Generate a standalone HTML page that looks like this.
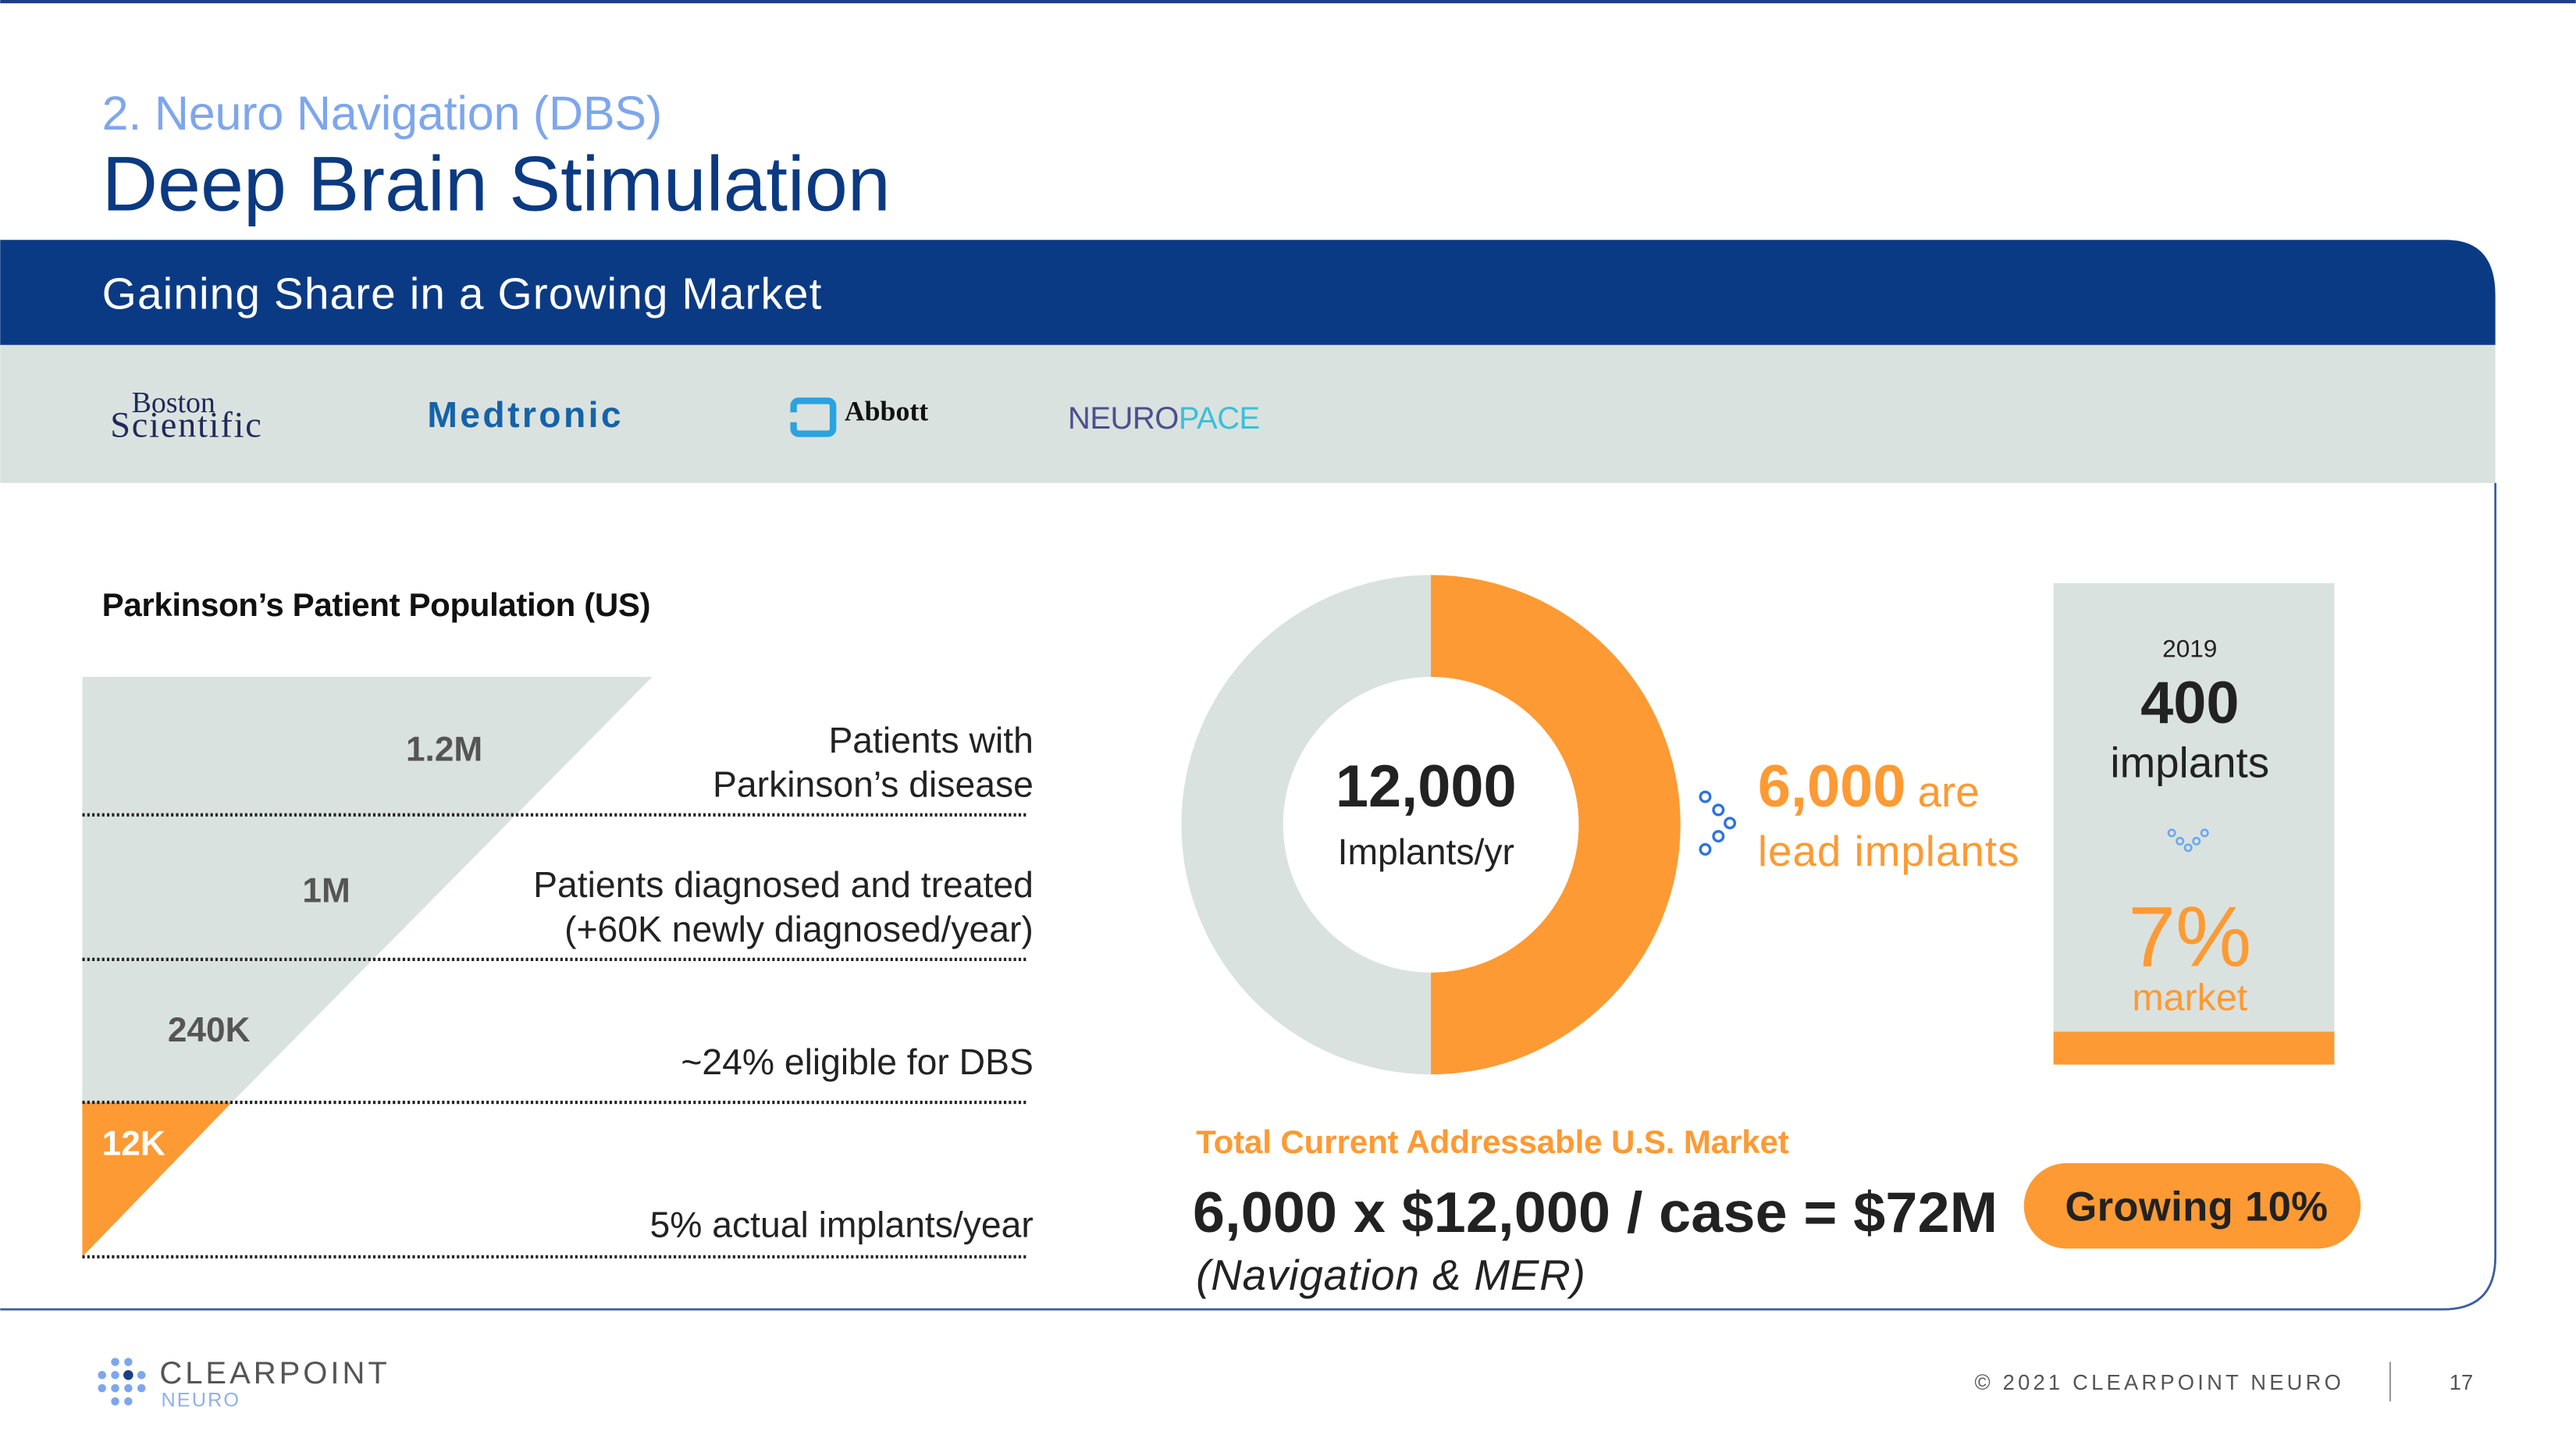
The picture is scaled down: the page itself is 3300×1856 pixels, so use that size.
<!DOCTYPE html>
<html><head><meta charset="utf-8"><style>
html,body{margin:0;padding:0;background:#fff;}
svg{display:block;}
text{font-family:"Liberation Sans",sans-serif;}
</style></head><body>
<svg width="3300" height="1856" viewBox="0 0 1568 882" xmlns="http://www.w3.org/2000/svg">
<rect width="1568" height="882" fill="#fff"/>
<rect x="0" y="0" width="1568" height="2" fill="#1b3f86"/>
<text x="62" y="79" font-size="29" fill="#7ea6ee" textLength="341">2. Neuro Navigation (DBS)</text>
<text x="62" y="128" font-size="47" fill="#0b3a82" textLength="480">Deep Brain Stimulation</text>
<path d="M0 146 H1489 Q1519 146 1519 180 V210 H0 Z" fill="#0b3a84"/>
<text x="62" y="188" font-size="27" fill="#fff" textLength="438">Gaining Share in a Growing Market</text>
<rect x="0" y="210" width="1519" height="84" fill="#dae2df"/>
<path d="M1519 294 V765 Q1519 797 1487 797 H0" fill="none" stroke="#3a5e9e" stroke-width="1.3"/>
<!-- logos -->
<text x="80" y="251" style="font-family:'Liberation Serif',serif" font-size="18" fill="#1f2a5a">Boston</text>
<text x="67" y="266" style="font-family:'Liberation Serif',serif" font-size="22" fill="#1f2a5a" textLength="92">Scientific</text>
<text x="260" y="260" font-size="22" font-weight="bold" fill="#1463aa" textLength="118">Medtronic</text>
<rect x="483" y="244" width="24" height="20" rx="3" fill="none" stroke="#2aa3e0" stroke-width="4"/>
<rect x="478" y="251" width="20" height="6" fill="#dae2df"/>
<text x="514" y="256" style="font-family:'Liberation Serif',serif" font-size="17" font-weight="bold" fill="#111">Abbott</text>
<text x="650" y="261" font-size="19" fill="#4b4f8f" textLength="117">NEURO<tspan fill="#3ac0d8">PACE</tspan></text>
<!-- funnel -->
<text x="62" y="375" font-size="20" font-weight="bold" fill="#111" textLength="334">Parkinson’s Patient Population (US)</text>
<polygon points="50,412 397,412 141,671 50,671" fill="#dae2df"/>
<polygon points="50,671 141,671 50,765" fill="#fe9a33"/>
<g stroke="#222" stroke-width="2" stroke-dasharray="1.5 1.5">
<line x1="50" y1="496" x2="626" y2="496"/><line x1="50" y1="584" x2="626" y2="584"/>
<line x1="50" y1="671" x2="626" y2="671"/><line x1="50" y1="765" x2="626" y2="765"/>
</g>
<g font-size="21" font-weight="bold" fill="#555">
<text x="247" y="463">1.2M</text><text x="184" y="549">1M</text><text x="102" y="634">240K</text>
<text x="62" y="703" fill="#fff">12K</text></g>
<g font-size="22" fill="#222" text-anchor="end">
<text x="629" y="458">Patients with</text><text x="629" y="485">Parkinson’s disease</text>
<text x="629" y="546">Patients diagnosed and treated</text><text x="629" y="573">(+60K newly diagnosed/year)</text>
<text x="629" y="654">~24% eligible for DBS</text><text x="629" y="753">5% actual implants/year</text></g>
<!-- donut -->
<path d="M871 350 A152 152 0 0 0 871 654 V592 A90 90 0 0 1 871 412 Z" fill="#dae2df"/>
<path d="M871 350 A152 152 0 0 1 871 654 V592 A90 90 0 0 0 871 412 Z" fill="#fe9a33"/>
<text x="868" y="491" font-size="36" font-weight="bold" fill="#222" text-anchor="middle">12,000</text>
<text x="868" y="526" font-size="22" fill="#222" text-anchor="middle">Implants/yr</text>
<g fill="none" stroke="#2d72e0" stroke-width="1.6">
<circle cx="1038" cy="485" r="3"/><circle cx="1046" cy="493" r="3"/><circle cx="1053" cy="501" r="3"/>
<circle cx="1046" cy="509" r="3"/><circle cx="1038" cy="517" r="3"/></g>
<text x="1070" y="491" font-size="36" font-weight="bold" fill="#fe9a33">6,000<tspan font-size="26" font-weight="normal"> are</tspan></text>
<text x="1070" y="527" font-size="26" fill="#fe9a33" textLength="159">lead implants</text>
<!-- box -->
<rect x="1250" y="355" width="171" height="273" fill="#dae2df"/>
<rect x="1250" y="628" width="171" height="20" fill="#fe9a33"/>
<g text-anchor="middle">
<text x="1333" y="400" font-size="15" fill="#222">2019</text>
<text x="1333" y="440" font-size="36" font-weight="bold" fill="#222">400</text>
<text x="1333" y="473" font-size="26" fill="#222">implants</text>
<text x="1333" y="588" font-size="52" fill="#fe9a33">7%</text>
<text x="1333" y="615" font-size="23" fill="#fe9a33">market</text></g>
<g fill="none" stroke="#6aa8ee" stroke-width="1.2">
<circle cx="1322" cy="507" r="2"/><circle cx="1327" cy="512" r="2"/><circle cx="1332" cy="516" r="2"/>
<circle cx="1337" cy="512" r="2"/><circle cx="1342" cy="507" r="2"/></g>
<!-- market -->
<text x="728" y="702" font-size="20" font-weight="bold" fill="#fe9a33" textLength="361">Total Current Addressable U.S. Market</text>
<text x="726" y="750" font-size="35" font-weight="bold" fill="#222" textLength="490">6,000 x $12,000 / case = $72M</text>
<text x="728" y="785" font-size="26" font-style="italic" fill="#222" textLength="237">(Navigation &amp; MER)</text>
<rect x="1232" y="708" width="205" height="52" rx="26" fill="#fe9a33"/>
<text x="1337" y="743" font-size="25" font-weight="bold" fill="#222" text-anchor="middle" textLength="160">Growing 10%</text>
<!-- footer -->
<g fill="#7ea6ee">
<circle cx="70" cy="829" r="2.5"/><circle cx="78" cy="829" r="2.5"/>
<circle cx="62" cy="837" r="2.5"/><circle cx="70" cy="837" r="2.5"/><circle cx="78" cy="837" r="3" fill="#1b3f86"/><circle cx="86" cy="837" r="2.5"/>
<circle cx="62" cy="845" r="2.5"/><circle cx="70" cy="845" r="2.5"/><circle cx="78" cy="845" r="2.5"/><circle cx="86" cy="845" r="2.5"/>
<circle cx="70" cy="853" r="2.5"/><circle cx="78" cy="853" r="2.5"/></g>
<text x="97" y="842" font-size="19" fill="#555" letter-spacing="1.5" textLength="140">CLEARPOINT</text>
<text x="98" y="856" font-size="12" fill="#8fb0e6" letter-spacing="1">NEURO</text>
<text x="1427" y="846" font-size="13" fill="#555" letter-spacing="2" text-anchor="end">© 2021 CLEARPOINT NEURO</text>
<line x1="1455" y1="829" x2="1455" y2="853" stroke="#999" stroke-width="1"/>
<text x="1491" y="846" font-size="13" fill="#555">17</text>
</svg>
</body></html>
